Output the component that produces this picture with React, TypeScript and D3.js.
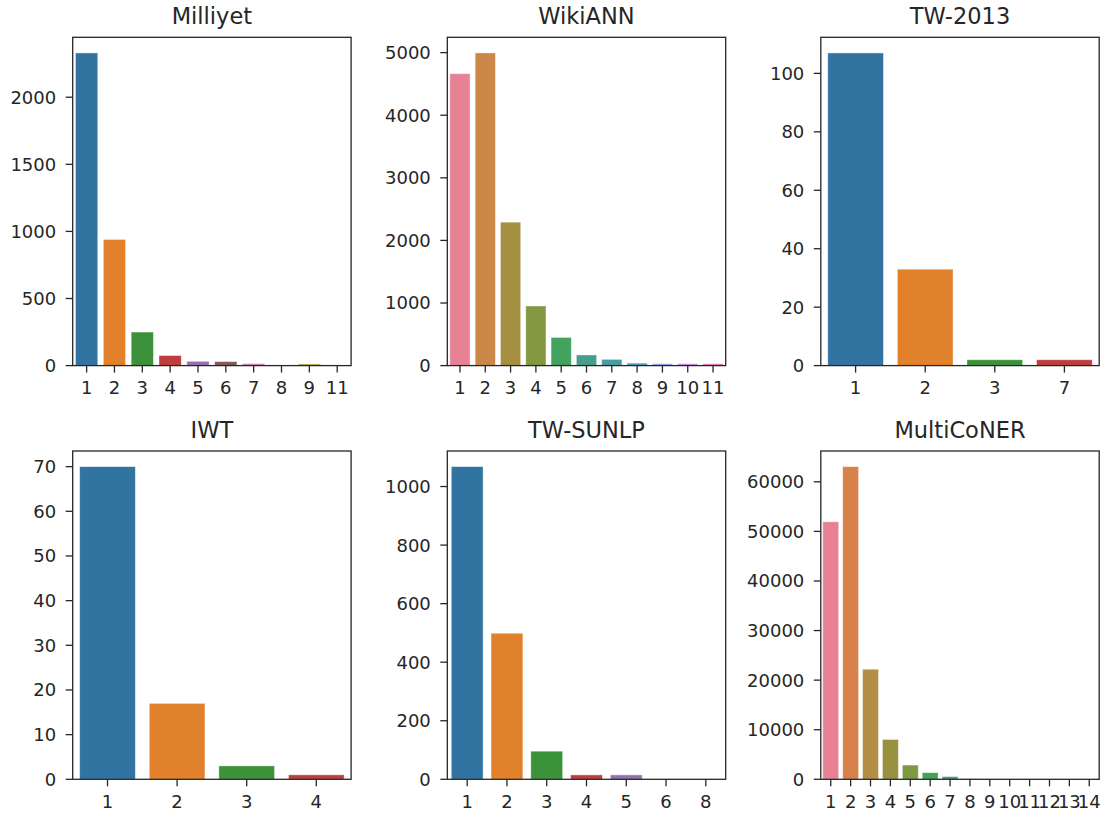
import React, { useRef, useEffect } from "react";
import * as d3 from "d3";

// counts per number of entities
const milliyetCats = ["1", "2", "3", "4", "5", "6", "7", "8", "9", "11"];
const milliyetCounts = [2330, 940, 250, 75, 32, 30, 15, 1, 12, 1];
const milliyetTicks = [0, 500, 1000, 1500, 2000];

const wikiCats = ["1", "2", "3", "4", "5", "6", "7", "8", "9", "10", "11"];
const wikiCounts = [4663, 4995, 2292, 952, 450, 170, 100, 40, 30, 30, 30];
const wikiTicks = [0, 1000, 2000, 3000, 4000, 5000];

const tw2013Cats = ["1", "2", "3", "7"];
const tw2013Counts = [107, 33, 2, 2];
const tw2013Ticks = [0, 20, 40, 60, 80, 100];

const iwtCats = ["1", "2", "3", "4"];
const iwtCounts = [70, 17, 3, 1];
const iwtTicks = [0, 10, 20, 30, 40, 50, 60, 70];

const sunlpCats = ["1", "2", "3", "4", "5", "6", "8"];
const sunlpCounts = [1068, 499, 96, 15, 15, 1, 1];
const sunlpTicks = [0, 200, 400, 600, 800, 1000];

const multiCats = ["1", "2", "3", "4", "5", "6", "7", "8", "9", "10", "11", "12", "13", "14"];
const multiCounts = [51930, 63060, 22200, 8030, 2870, 1340, 550, 100, 60, 40, 20, 10, 5, 5];
const multiTicks = [0, 10000, 20000, 30000, 40000, 50000, 60000];

const panels = [
  { title: "Milliyet", cats: milliyetCats, counts: milliyetCounts, ticks: milliyetTicks },
  { title: "WikiANN", cats: wikiCats, counts: wikiCounts, ticks: wikiTicks },
  { title: "TW-2013", cats: tw2013Cats, counts: tw2013Counts, ticks: tw2013Ticks },
  { title: "IWT", cats: iwtCats, counts: iwtCounts, ticks: iwtTicks },
  { title: "TW-SUNLP", cats: sunlpCats, counts: sunlpCounts, ticks: sunlpTicks },
  { title: "MultiCoNER", cats: multiCats, counts: multiCounts, ticks: multiTicks },
];

// --- husl (hsluv) -> rgb, the way seaborn builds palettes for > 10 categories
const M = [
  [3.240969941904521, -1.537383177570093, -0.498610760293],
  [-0.96924363628087, 1.87596750150772, 0.041555057407175],
  [0.055630079696993, -0.20397695888897, 1.056971514242878],
];
const REF_U = 0.19783000664283;
const REF_V = 0.46831999493879;
const KAPPA = 903.2962962;
const EPS = 0.0088564516;

function maxChroma(L: number, H: number) {
  const sub1 = Math.pow(L + 16, 3) / 1560896;
  const sub2 = sub1 > EPS ? sub1 : L / KAPPA;
  const hrad = (H / 180) * Math.PI;
  let min = Infinity;
  for (const [m1, m2, m3] of M) {
    for (const t of [0, 1]) {
      const top1 = (284517 * m1 - 94839 * m3) * sub2;
      const top2 = (838422 * m3 + 769860 * m2 + 731718 * m1) * L * sub2 - 769860 * t * L;
      const bottom = (632260 * m3 - 126452 * m2) * sub2 + 126452 * t;
      const len = top2 / bottom / (Math.sin(hrad) - (top1 / bottom) * Math.cos(hrad));
      if (len >= 0) min = Math.min(min, len);
    }
  }
  return min;
}

function huslToRgb(H: number, S: number, L: number) {
  const C = (maxChroma(L, H) / 100) * S;
  const hrad = (H / 180) * Math.PI;
  const U = C * Math.cos(hrad);
  const V = C * Math.sin(hrad);
  const varU = U / (13 * L) + REF_U;
  const varV = V / (13 * L) + REF_V;
  const Y = L <= 8 ? L / KAPPA : Math.pow((L + 16) / 116, 3);
  const X = -(9 * Y * varU) / ((varU - 4) * varV - varU * varV);
  const Z = (9 * Y - 15 * varV * Y - varV * X) / (3 * varV);
  const lin = M.map((r) => r[0] * X + r[1] * Y + r[2] * Z);
  const [r, g, b] = lin.map((c) => {
    const v = c <= 0.0031308 ? 12.92 * c : 1.055 * Math.pow(c, 1 / 2.4) - 0.055;
    return Math.max(0, Math.min(1, v)) * 255;
  });
  return d3.rgb(r, g, b);
}

function palette(n: number) {
  let cols: string[];
  if (n > 10) {
    cols = d3.range(n).map((i) => huslToRgb((((i / n) + 0.01) % 1) * 359, 0.9 * 99, 0.65 * 99).formatHex());
  } else {
    cols = d3.schemeCategory10.slice(0, n) as string[];
  }
  // seaborn desaturates bar colors to 0.75
  return cols.map((c) => {
    const h = d3.hsl(c);
    h.s *= 0.75;
    return h.formatHex();
  });
}

const W = 1105;
const H = 813;
const colLeft = [72.7, 447.3, 820.8];
const rowTop = [37.3, 451];
const axW = 278.4;
const axH = 328.3;
const ink = "#262626";
const font = "DejaVu Sans";
const tickLen = 7;

const App = () => {
  const svgRef = useRef<SVGSVGElement>(null);

  useEffect(() => {
    const svg = d3.select(svgRef.current);
    svg.selectAll("*").remove();

    panels.forEach((p, k) => {
      const x0 = colLeft[k % 3];
      const y0 = rowTop[Math.floor(k / 3)];
      const g = svg.append("g").attr("transform", `translate(${x0},${y0})`);

      const x = d3.scaleBand().domain(p.cats).range([0, axW]).paddingInner(0.2).paddingOuter(0.1);
      const y = d3.scaleLinear().domain([0, (d3.max(p.counts) as number) * 1.05]).range([axH, 0]);
      const cols = palette(p.cats.length);

      g.selectAll("rect.bar")
        .data(p.counts)
        .join("rect")
        .attr("class", "bar")
        .attr("x", (d, i) => x(p.cats[i]) as number)
        .attr("width", x.bandwidth())
        .attr("y", (d) => y(d))
        .attr("height", (d) => axH - y(d))
        .attr("fill", (d, i) => cols[i])
        .attr("stroke", "#fff")
        .attr("stroke-opacity", 0.5)
        .attr("stroke-width", 0.8);

      // y axis ticks
      const yt = g.append("g");
      yt.selectAll("line")
        .data(p.ticks)
        .join("line")
        .attr("x1", -tickLen)
        .attr("x2", 0)
        .attr("y1", (d) => y(d))
        .attr("y2", (d) => y(d))
        .attr("stroke", ink)
        .attr("stroke-width", 1.3);
      yt.selectAll("text")
        .data(p.ticks)
        .join("text")
        .attr("x", -16.5)
        .attr("y", (d) => y(d))
        .attr("dy", "0.36em")
        .attr("text-anchor", "end")
        .attr("font-family", font)
        .attr("font-size", 18)
        .attr("fill", ink)
        .text((d) => String(d));

      // x axis ticks
      const xt = g.append("g");
      xt.selectAll("line")
        .data(p.cats)
        .join("line")
        .attr("x1", (d) => (x(d) as number) + x.bandwidth() / 2)
        .attr("x2", (d) => (x(d) as number) + x.bandwidth() / 2)
        .attr("y1", axH)
        .attr("y2", axH + tickLen)
        .attr("stroke", ink)
        .attr("stroke-width", 1.3);
      xt.selectAll("text")
        .data(p.cats)
        .join("text")
        .attr("x", (d) => (x(d) as number) + x.bandwidth() / 2)
        .attr("y", axH + 12)
        .attr("dy", "0.92em")
        .attr("text-anchor", "middle")
        .attr("font-family", font)
        .attr("font-size", 18)
        .attr("fill", ink)
        .text((d) => d);

      // frame
      g.append("rect")
        .attr("width", axW)
        .attr("height", axH)
        .attr("fill", "none")
        .attr("stroke", ink)
        .attr("stroke-width", 1.3);

      g.append("text")
        .attr("x", axW / 2)
        .attr("y", -13)
        .attr("text-anchor", "middle")
        .attr("font-family", font)
        .attr("font-size", 22.5)
        .attr("fill", ink)
        .text(p.title);
    });
  }, []);

  return (
    <svg
      ref={svgRef}
      width={W}
      height={H}
      style={{ position: "absolute", left: 0, top: 0, background: "#fff" }}
    />
  );
};

export default App;
